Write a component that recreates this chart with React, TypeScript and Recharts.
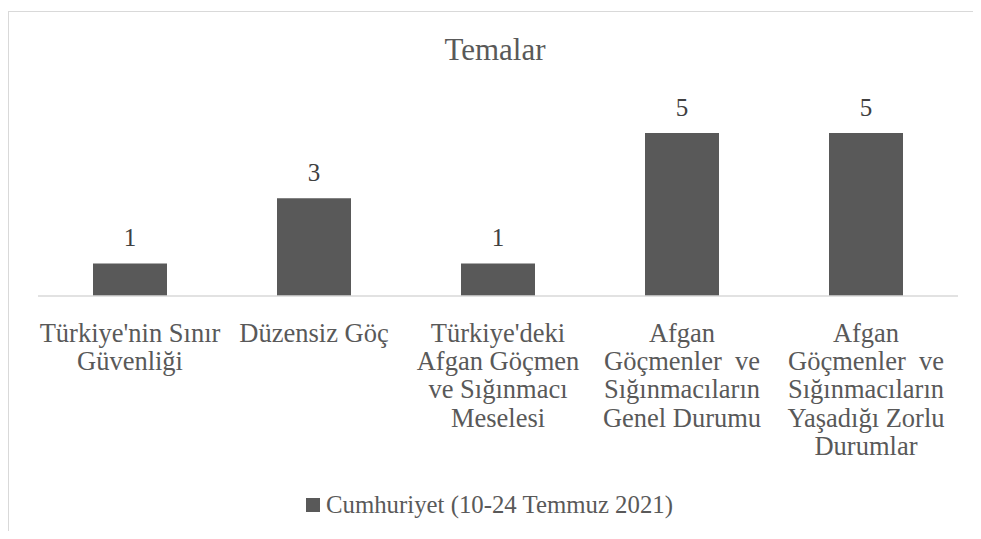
import { Bar, BarChart, LabelList, Legend, XAxis, YAxis } from 'recharts'

const temalar = [
  "Türkiye'nin Sınır\nGüvenliği",
  'Düzensiz Göç',
  "Türkiye'deki\nAfgan Göçmen\nve Sığınmacı\nMeselesi",
  'Afgan\nGöçmenler  ve\nSığınmacıların\nGenel Durumu',
  'Afgan\nGöçmenler  ve\nSığınmacıların\nYaşadığı Zorlu\nDurumlar',
]
const cumhuriyet = [1, 3, 1, 5, 5]
const seriesName = 'Cumhuriyet (10-24 Temmuz 2021)'
const chartTitle = 'Temalar'

const data = temalar.map((name, i) => ({ name, value: cumhuriyet[i] }))

const FONT = 'Liberation Serif'
const GRAY = '#595959'

function CategoryTick(props: any) {
  const { x, y, payload } = props
  const lines = String(payload.value).split('\n')
  return (
    <text
      x={x}
      y={y}
      textAnchor="middle"
      fill={GRAY}
      style={{ whiteSpace: 'pre', fontFamily: FONT, fontSize: 26.5 }}
    >
      {lines.map((line, i) => (
        <tspan key={i} x={x} y={y + 46 + i * 28.2}>
          {line}
        </tspan>
      ))}
    </text>
  )
}

function ValueLabel(props: any) {
  const { x, y, width, value } = props
  return (
    <text
      x={x + width / 2}
      y={y - 17}
      textAnchor="middle"
      fill="#404040"
      style={{ fontFamily: FONT, fontSize: 25 }}
    >
      {value}
    </text>
  )
}

function LegendBox() {
  return (
    <div
      style={{
        display: 'flex',
        alignItems: 'center',
        justifyContent: 'center',
        fontFamily: FONT,
        fontSize: 24.8,
        color: GRAY,
        paddingRight: 11,
      }}
    >
      <span
        style={{
          display: 'inline-block',
          width: 14,
          height: 14,
          background: GRAY,
          marginRight: 6,
        }}
      />
      <span>{seriesName}</span>
    </div>
  )
}

export default function App() {
  return (
    <div style={{ paddingTop: 3 }}>
      <div
        style={{
          position: 'relative',
          width: 972,
          height: 519,
          borderTop: '1px solid #d9d9d9',
          borderLeft: '1px solid #d9d9d9',
          background: '#fff',
        }}
      >
        <div
          style={{
            position: 'absolute',
            top: 22,
            left: 0,
            width: 972,
            textAlign: 'center',
            fontFamily: FONT,
            fontSize: 31,
            lineHeight: '31px',
            color: GRAY,
            zIndex: 2,
          }}
        >
          {chartTitle}
        </div>
        <BarChart
          width={972}
          height={519}
          data={data}
          margin={{ top: 121, right: 23, left: 29, bottom: 85 }}
          barSize={74}
        >
          <XAxis
            dataKey="name"
            interval={0}
            height={150}
            tickLine={false}
            tickSize={0}
            tickMargin={0}
            axisLine={{ stroke: '#d9d9d9', strokeWidth: 1.5 }}
            tick={(p: any) => <CategoryTick {...p} />}
          />
          <YAxis hide domain={[0, 5]} />
          <Legend
            verticalAlign="middle"
            align="center"
            layout="horizontal"
            wrapperStyle={{ top: 479, left: 0, width: 972 }}
            content={<LegendBox />}
          />
          <Bar
            dataKey="value"
            name={seriesName}
            fill={GRAY}
            isAnimationActive={false}
          >
            <LabelList dataKey="value" content={<ValueLabel />} />
          </Bar>
        </BarChart>
      </div>
    </div>
  )
}
